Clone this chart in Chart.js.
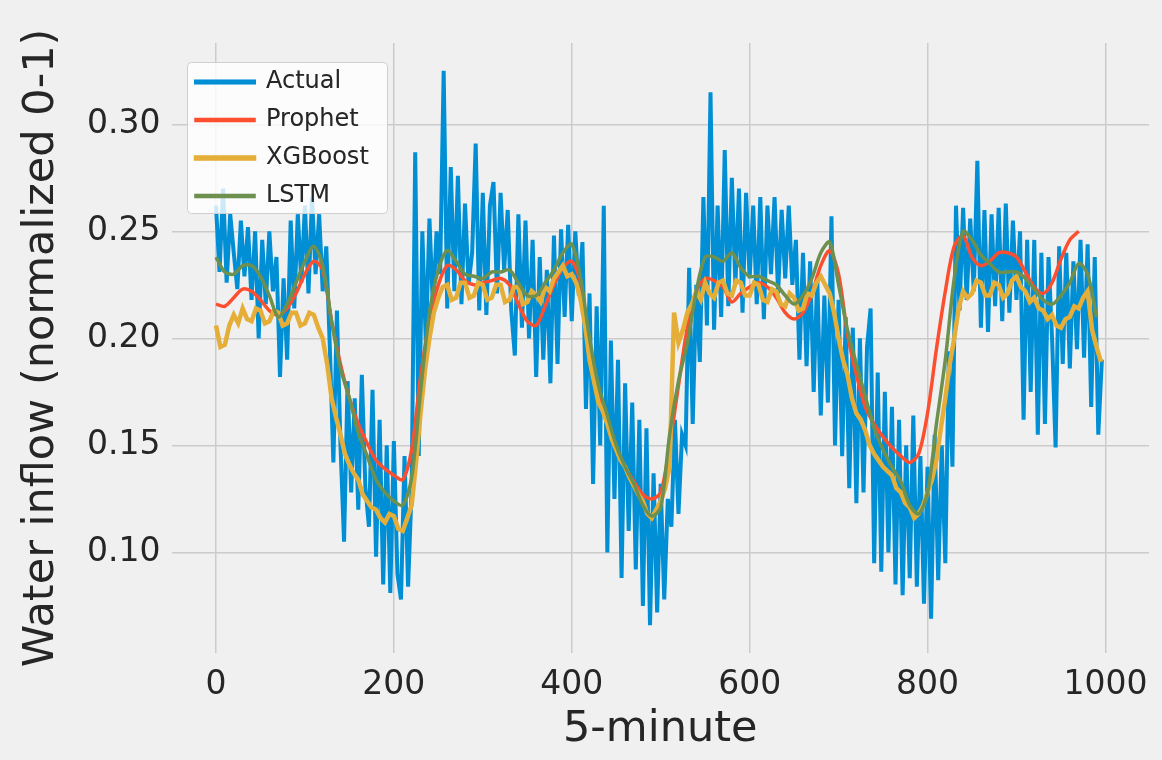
<!DOCTYPE html>
<html>
<head>
<meta charset="utf-8">
<script src="https://cdn.jsdelivr.net/npm/chart.js@4.4.1/dist/chart.umd.min.js"></script>
<style>
  html, body { margin: 0; padding: 0; background: #f0f0f0; }
  canvas { display: block; }
</style>
</head>
<body>
<canvas id="flowChart" width="1162" height="760"></canvas>
<script>
// --- water inflow: actual vs. model forecasts ---
const actualStep = 4;   // one value every 4 samples
const actual = [
  0.262, 0.231, 0.270, 0.226, 0.258, 0.240, 0.223, 0.255, 0.229, 0.252,
  0.218, 0.250, 0.200, 0.246, 0.216, 0.250, 0.222, 0.238, 0.182, 0.228,
  0.190, 0.255, 0.214, 0.258, 0.226, 0.262, 0.221, 0.266, 0.230, 0.258,
  0.222, 0.243, 0.196, 0.142, 0.213, 0.150, 0.105, 0.180, 0.128, 0.172,
  0.120, 0.183, 0.130, 0.112, 0.176, 0.098, 0.162, 0.085, 0.150, 0.081,
  0.152, 0.090, 0.078, 0.145, 0.084, 0.130, 0.287, 0.145, 0.250, 0.197,
  0.256, 0.214, 0.250, 0.230, 0.325, 0.214, 0.280, 0.222, 0.276, 0.216,
  0.263, 0.225, 0.240, 0.291, 0.213, 0.268, 0.211, 0.262, 0.273, 0.221,
  0.268, 0.232, 0.260, 0.213, 0.192, 0.258, 0.205, 0.255, 0.200, 0.246,
  0.182, 0.238, 0.190, 0.232, 0.179, 0.248, 0.188, 0.251, 0.210, 0.253,
  0.208, 0.250, 0.220, 0.245, 0.167, 0.221, 0.132, 0.215, 0.150, 0.262,
  0.100, 0.199, 0.125, 0.190, 0.088, 0.179, 0.110, 0.170, 0.092, 0.162,
  0.075, 0.158, 0.066, 0.137, 0.072, 0.132, 0.078, 0.125, 0.112, 0.162,
  0.118, 0.155, 0.150, 0.233, 0.160, 0.225, 0.189, 0.266, 0.206, 0.315,
  0.204, 0.262, 0.210, 0.288, 0.215, 0.275, 0.225, 0.270, 0.212, 0.268,
  0.228, 0.262, 0.216, 0.266, 0.209, 0.262, 0.230, 0.266, 0.221, 0.260,
  0.228, 0.262, 0.225, 0.246, 0.190, 0.240, 0.187, 0.236, 0.175, 0.229,
  0.164, 0.220, 0.170, 0.257, 0.150, 0.218, 0.145, 0.210, 0.130, 0.205,
  0.123, 0.200, 0.128, 0.196, 0.214, 0.095, 0.184, 0.091, 0.175, 0.100,
  0.168, 0.085, 0.162, 0.080, 0.150, 0.088, 0.164, 0.084, 0.145, 0.076,
  0.140, 0.069, 0.155, 0.087, 0.150, 0.095, 0.194, 0.140, 0.262, 0.213,
  0.261, 0.218, 0.256, 0.222, 0.283, 0.205, 0.260, 0.203, 0.258, 0.215,
  0.261, 0.208, 0.263, 0.212, 0.255, 0.218, 0.250, 0.162, 0.246, 0.175,
  0.246, 0.155, 0.240, 0.160, 0.238, 0.200, 0.149, 0.243, 0.188, 0.240,
  0.186, 0.236, 0.195, 0.246, 0.191, 0.244, 0.168, 0.238, 0.155, 0.190
];

const modelStep = 10;   // smooth forecasts read every 10 samples
const prophet = [
  0.216, 0.215, 0.219, 0.223, 0.222, 0.218, 0.213, 0.211, 0.214, 0.221,
  0.230, 0.236, 0.232, 0.208, 0.188, 0.172, 0.160, 0.151, 0.143, 0.139,
  0.136, 0.134, 0.148, 0.182, 0.208, 0.225, 0.234, 0.232, 0.227, 0.225,
  0.226, 0.227, 0.228, 0.225, 0.216, 0.208, 0.206, 0.215, 0.225, 0.233,
  0.236, 0.226, 0.195, 0.174, 0.161, 0.149, 0.140, 0.133, 0.127, 0.125,
  0.128, 0.150, 0.178, 0.205, 0.222, 0.228, 0.227, 0.224, 0.217, 0.221,
  0.224, 0.226, 0.224, 0.219, 0.212, 0.209, 0.212, 0.221, 0.234, 0.241,
  0.230, 0.202, 0.183, 0.168, 0.160, 0.154, 0.149, 0.145, 0.142, 0.146,
  0.165, 0.195, 0.222, 0.243, 0.248, 0.238, 0.234, 0.236, 0.240, 0.240,
  0.238, 0.231, 0.224, 0.221, 0.226, 0.237, 0.246, 0.250
];
const lstm = [
  0.238, 0.231, 0.230, 0.234, 0.234, 0.229, 0.220, 0.210, 0.216, 0.226,
  0.236, 0.243, 0.234, 0.208, 0.186, 0.172, 0.156, 0.145, 0.134, 0.128,
  0.124, 0.122, 0.135, 0.175, 0.212, 0.232, 0.241, 0.236, 0.230, 0.229,
  0.228, 0.231, 0.231, 0.232, 0.226, 0.220, 0.220, 0.226, 0.232, 0.240,
  0.244, 0.228, 0.200, 0.178, 0.164, 0.150, 0.140, 0.132, 0.122, 0.117,
  0.121, 0.155, 0.180, 0.198, 0.222, 0.238, 0.238, 0.236, 0.240, 0.233,
  0.229, 0.229, 0.227, 0.225, 0.220, 0.216, 0.220, 0.228, 0.240, 0.245,
  0.225, 0.204, 0.188, 0.173, 0.158, 0.148, 0.140, 0.133, 0.122, 0.118,
  0.128, 0.160, 0.190, 0.228, 0.250, 0.246, 0.239, 0.235, 0.231, 0.231,
  0.231, 0.228, 0.223, 0.218, 0.216, 0.220, 0.226, 0.235, 0.230, 0.210
];

const xgbStep = 5;      // XGBoost is jittery, read every 5 samples
const xgboost = [
  0.206, 0.196, 0.197, 0.206, 0.211, 0.207, 0.214, 0.209, 0.208, 0.214,
  0.213, 0.207, 0.208, 0.213, 0.212, 0.206, 0.207, 0.212, 0.212, 0.206,
  0.207, 0.212, 0.211, 0.205, 0.200, 0.188, 0.172, 0.163, 0.155, 0.146,
  0.141, 0.137, 0.134, 0.127, 0.124, 0.121, 0.120, 0.116, 0.114, 0.118,
  0.117, 0.111, 0.110, 0.116, 0.122, 0.142, 0.165, 0.185, 0.200, 0.212,
  0.219, 0.224, 0.225, 0.218, 0.219, 0.226, 0.226, 0.219, 0.220, 0.226,
  0.225, 0.218, 0.219, 0.225, 0.225, 0.217, 0.218, 0.224, 0.224, 0.216,
  0.217, 0.222, 0.220, 0.217, 0.224, 0.222, 0.228, 0.231, 0.234, 0.229,
  0.230, 0.226, 0.218, 0.206, 0.190, 0.180, 0.170, 0.166, 0.160, 0.153,
  0.148, 0.143, 0.140, 0.135, 0.131, 0.127, 0.124, 0.118, 0.116, 0.120,
  0.124, 0.130, 0.140, 0.212, 0.198, 0.204, 0.212, 0.216, 0.222, 0.218,
  0.226, 0.221, 0.219, 0.226, 0.227, 0.221, 0.220, 0.227, 0.226, 0.220,
  0.220, 0.226, 0.225, 0.218, 0.217, 0.223, 0.222, 0.216, 0.215, 0.221,
  0.219, 0.213, 0.214, 0.221, 0.220, 0.226, 0.229, 0.225, 0.221, 0.212,
  0.200, 0.190, 0.183, 0.172, 0.165, 0.162, 0.157, 0.150, 0.146, 0.143,
  0.140, 0.138, 0.136, 0.130, 0.128, 0.123, 0.121, 0.116, 0.118, 0.122,
  0.128, 0.134, 0.143, 0.158, 0.172, 0.188, 0.200, 0.214, 0.222, 0.219,
  0.221, 0.227, 0.226, 0.220, 0.220, 0.226, 0.225, 0.219, 0.221, 0.227,
  0.229, 0.224, 0.222, 0.217, 0.219, 0.214, 0.213, 0.209, 0.211, 0.206,
  0.205, 0.209, 0.210, 0.215, 0.214, 0.219, 0.222, 0.204, 0.196, 0.189
];

const xTicks = [0, 200, 400, 600, 800, 1000];
const yTicks = [0.10, 0.15, 0.20, 0.25, 0.30];

const FONT = 'DejaVu Sans';
const INK = '#262626';

function toPoints(vals, step) {
  return vals.map((v, i) => ({ x: i * step, y: v }));
}

// legend sits inside the plot, on a half-transparent white frame above the lines
const legendFrame = {
  id: 'legendFrame',
  afterLayout(chart) {
    chart.legend.left = 182;
    chart.legend.top = 56;
  },
  afterDatasetsDraw(chart) {
    const ctx = chart.ctx;
    ctx.save();
    ctx.beginPath();
    ctx.roundRect(187.5, 62.5, 200, 151, 4);
    ctx.fillStyle = 'rgba(255,255,255,0.8)';
    ctx.fill();
    ctx.strokeStyle = '#cfcfcf';
    ctx.lineWidth = 1;
    ctx.stroke();
    ctx.restore();
    chart.legend.draw();
  }
};

function line(label, vals, step, color, width, order, tension) {
  return {
    label, data: toPoints(vals, step), borderColor: color, backgroundColor: color,
    borderWidth: width, pointRadius: 0, tension, order
  };
}

new Chart(document.getElementById('flowChart').getContext('2d'), {
  type: 'line',
  data: {
    datasets: [
      line('Actual', actual, actualStep, '#008fd5', 4, 4, 0),
      line('Prophet', prophet, modelStep, '#fc4f30', 3.5, 3, 0.3),
      line('XGBoost', xgboost, xgbStep, '#e5ae38', 4.5, 2, 0),
      line('LSTM', lstm, modelStep, '#6d904f', 3.5, 1, 0.3)
    ]
  },
  options: {
    responsive: false, animation: false, devicePixelRatio: 1,
    layout: { padding: { left: 0, right: 13, top: 43, bottom: 0 } },
    plugins: {
      tooltip: { enabled: false },
      legend: {
        position: 'chartArea', align: 'start',
        labels: {
          font: { family: FONT, size: 24 }, color: INK,
          boxWidth: 58, boxHeight: 1, padding: 14,
          sort: (a, b) => a.datasetIndex - b.datasetIndex
        }
      }
    },
    scales: {
      x: {
        type: 'linear', min: -50, max: 1049,
        afterBuildTicks: (s) => { s.ticks = xTicks.map(v => ({ value: v })); },
        afterFit: (s) => { s.height = 107; },
        border: { display: false },
        grid: { color: '#cbcbcb', lineWidth: 1.5, drawTicks: false },
        ticks: { font: { family: FONT, size: 33 }, color: INK, padding: 13, maxRotation: 0,
                 callback: (v) => String(v) },
        title: { display: true, text: '5-minute', font: { family: FONT, size: 43 }, color: INK,
                 padding: { top: 0, bottom: 4 } }
      },
      y: {
        min: 0.053, max: 0.338,
        afterBuildTicks: (s) => { s.ticks = yTicks.map(v => ({ value: v })); },
        afterFit: (s) => { s.width = 171.5; },
        border: { display: false },
        grid: { color: '#cbcbcb', lineWidth: 1.5, drawTicks: false },
        ticks: { font: { family: FONT, size: 33 }, color: INK, padding: 11,
                 callback: (v) => v.toFixed(2) },
        title: { display: true, text: 'Water inflow (normalized 0-1)', font: { family: FONT, size: 43 },
                 color: INK, padding: { top: 16, bottom: 0 } }
      }
    }
  },
  plugins: [legendFrame]
});
</script>
</body>
</html>
